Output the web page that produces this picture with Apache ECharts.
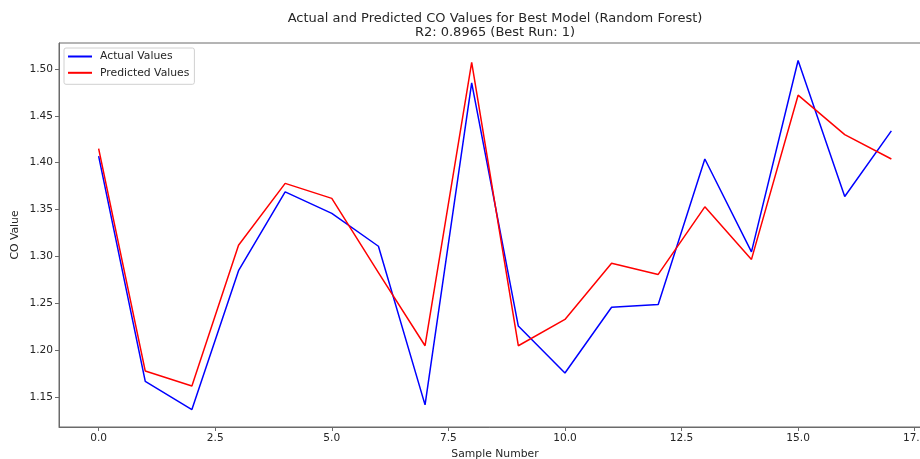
<!DOCTYPE html>
<html>
<head>
<meta charset="utf-8">
<script src="https://cdn.jsdelivr.net/npm/echarts@6/dist/echarts.min.js"></script>
<style>
  html, body { margin: 0; padding: 0; background: #ffffff; overflow: hidden; }
  #chart { width: 920px; height: 459px; }
</style>
</head>
<body>
<div id="chart"></div>
<script>
// Sample indices and CO values (actual vs. model prediction)
const sampleNumbers = [0, 1, 2, 3, 4, 5, 6, 7, 8, 9, 10, 11, 12, 13, 14, 15, 16, 17];
const actualValues = [1.407, 1.167, 1.137, 1.285, 1.369, 1.346, 1.311, 1.142, 1.485,
                      1.226, 1.176, 1.246, 1.249, 1.404, 1.305, 1.509, 1.364, 1.434];
const predictedValues = [1.415, 1.178, 1.162, 1.312, 1.378, 1.362, 1.283, 1.205, 1.507,
                         1.205, 1.233, 1.293, 1.281, 1.353, 1.297, 1.472, 1.430, 1.404];

// Tick positions on both axes
const xTickValues = [0, 2.5, 5, 7.5, 10, 12.5, 15, 17.5];
const yTickValues = [1.15, 1.20, 1.25, 1.30, 1.35, 1.40, 1.45, 1.50];

const titleLines = ['Actual and Predicted CO Values for Best Model (Random Forest)', 'R2: 0.8965 (Best Run: 1)'];

const FONT = "'DejaVu Sans', sans-serif";
const TEXT = '#262626';
const SPINE = '#6a6a6a';

// Axis limits padded 5% beyond the data, like a default plotting margin
const xMin = -0.85, xMax = 17.85;
const allVals = actualValues.concat(predictedValues);
const vMin = Math.min(...allVals), vMax = Math.max(...allVals);
const pad = (vMax - vMin) * 0.05;

const pairs = (ys) => sampleNumbers.map((x, i) => [x, ys[i]]);

const chart = echarts.init(document.getElementById('chart'), null, { renderer: 'canvas' });
chart.setOption({
  backgroundColor: '#ffffff',
  animation: false,
  textStyle: { fontFamily: FONT },
  graphic: [
    { type: 'text', x: 495, y: 18.5, style: { text: titleLines[0], fontFamily: FONT, fontSize: 13, fill: TEXT, textAlign: 'center', textVerticalAlign: 'middle' } },
    { type: 'text', x: 495, y: 32.5, style: { text: titleLines[1], fontFamily: FONT, fontSize: 13, fill: TEXT, textAlign: 'center', textVerticalAlign: 'middle' } }
  ],
  grid: {
    left: 59, right: -11, top: 43, bottom: 32,
    show: true, borderColor: SPINE, borderWidth: 1, backgroundColor: '#ffffff',
    outerBoundsMode: 'none'
  },
  legend: {
    orient: 'vertical',
    left: 64, top: 48,
    padding: [3, 5, 6, 4],
    itemGap: 5.3,
    itemWidth: 24, itemHeight: 2,
    icon: 'rect',
    borderColor: '#d0d0d0', borderWidth: 1, borderRadius: 2,
    backgroundColor: 'rgba(255,255,255,0.8)',
    textStyle: { fontFamily: FONT, fontSize: 10.8, color: TEXT, padding: [0, 0, 0, 3] },
    data: ['Actual Values', 'Predicted Values']
  },
  xAxis: {
    type: 'value',
    min: xMin, max: xMax,
    name: 'Sample Number', nameLocation: 'middle', nameGap: 19,
    nameTextStyle: { fontFamily: FONT, fontSize: 10.8, color: TEXT },
    axisLine: { show: true, onZero: false, lineStyle: { color: SPINE, width: 1 } },
    axisTick: { show: true, length: 4, lineStyle: { color: SPINE }, customValues: xTickValues },
    axisLabel: { fontFamily: FONT, fontSize: 10.6, color: TEXT, margin: 6, customValues: xTickValues,
                 formatter: (v) => v.toFixed(1) },
    splitLine: { show: false }
  },
  yAxis: {
    type: 'value',
    min: vMin - pad, max: vMax + pad,
    name: 'CO Value', nameLocation: 'middle', nameGap: 38, nameMoveOverlap: false,
    nameTextStyle: { fontFamily: FONT, fontSize: 10.8, color: TEXT },
    axisLine: { show: true, onZero: false, lineStyle: { color: SPINE, width: 1 } },
    axisTick: { show: true, length: 4, lineStyle: { color: SPINE }, customValues: yTickValues },
    axisLabel: { fontFamily: FONT, fontSize: 10.6, color: TEXT, margin: 6, customValues: yTickValues,
                 formatter: (v) => v.toFixed(2) },
    splitLine: { show: false }
  },
  series: [
    {
      name: 'Actual Values', type: 'line', data: pairs(actualValues),
      showSymbol: false, symbol: 'none', color: '#0000ff',
      lineStyle: { color: '#0000ff', width: 1.5 }
    },
    {
      name: 'Predicted Values', type: 'line', data: pairs(predictedValues),
      showSymbol: false, symbol: 'none', color: '#ff0000',
      lineStyle: { color: '#ff0000', width: 1.5 }
    }
  ]
});
</script>
</body>
</html>
